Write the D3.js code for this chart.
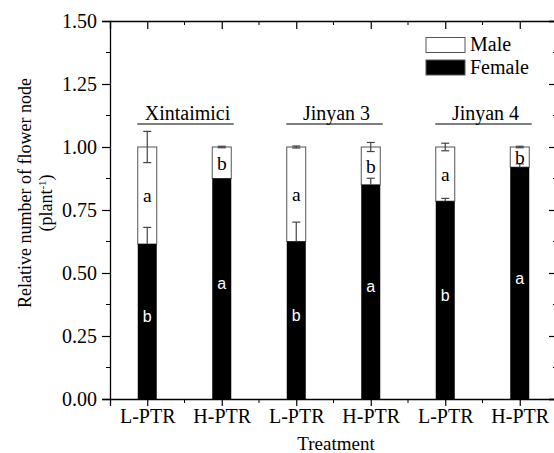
<!DOCTYPE html>
<html>
<head>
<meta charset="utf-8">
<script src="https://cdn.jsdelivr.net/npm/d3@7"></script>
<style>
  body { margin: 0; background: #fff; }
  text { font-family: "Liberation Serif", "Times New Roman", serif; fill: #000; }
</style>
</head>
<body>
<script>
var w = 554, h = 453;

// data
var categories = ["L-PTR", "H-PTR", "L-PTR", "H-PTR", "L-PTR", "H-PTR"];
var groups = ["Xintaimici", "Jinyan 3", "Jinyan 4"];
var female = [0.615, 0.875, 0.625, 0.85, 0.785, 0.92];
var male = [0.385, 0.125, 0.375, 0.15, 0.215, 0.08];
var femaleErr = [0.066, 0.0, 0.077, 0.026, 0.011, 0.013];
var maleErr = [0.062, 0.003, 0.004, 0.018, 0.015, 0.003];
var femaleLetters = ["b", "a", "b", "a", "b", "a"];
var maleLetters = ["a", "b", "a", "b", "a", "b"];
var yTicks = [0, 0.25, 0.5, 0.75, 1.0, 1.25, 1.5];

var pLeft = 110, pTop = 21, pRight = 557, pBottom = 399;

var svg = d3.select("body").append("svg")
            .attr("width", w)
            .attr("height", h);

var x = d3.scaleLinear().domain([0.5, 6.5]).range([pLeft, pRight]);
var y = d3.scaleLinear().domain([0, 1.5]).range([pBottom, pTop]);
var barW = 19;

// bars
var bars = svg.append("g");
categories.forEach(function(c, i) {
  var cx = x(i + 1);
  // male on top (white)
  bars.append("rect")
      .attr("x", cx - barW / 2)
      .attr("y", y(female[i] + male[i]))
      .attr("width", barW)
      .attr("height", y(female[i]) - y(female[i] + male[i]))
      .attr("fill", "#fff")
      .attr("stroke", "#555")
      .attr("stroke-width", 1);
  bars.append("rect")
      .attr("x", cx - barW / 2)
      .attr("y", y(female[i]))
      .attr("width", barW)
      .attr("height", y(0) - y(female[i]))
      .attr("fill", "#000");
});

// error bars
function errBar(cx, lo, hi) {
  var g = svg.append("g").attr("stroke", "#444").attr("stroke-width", 1.2);
  g.append("line").attr("x1", cx).attr("x2", cx).attr("y1", y(lo)).attr("y2", y(hi));
  g.append("line").attr("x1", cx - 4).attr("x2", cx + 4).attr("y1", y(hi)).attr("y2", y(hi));
  g.append("line").attr("x1", cx - 4).attr("x2", cx + 4).attr("y1", y(lo)).attr("y2", y(lo));
}
categories.forEach(function(c, i) {
  var cx = x(i + 1);
  var tot = female[i] + male[i];
  errBar(cx, tot - maleErr[i], tot + maleErr[i]);
  if (femaleErr[i] > 0) {
    var g = svg.append("g").attr("stroke", "#444").attr("stroke-width", 1.2);
    g.append("line").attr("x1", cx).attr("x2", cx).attr("y1", y(female[i])).attr("y2", y(female[i] + femaleErr[i]));
    g.append("line").attr("x1", cx - 4).attr("x2", cx + 4)
     .attr("y1", y(female[i] + femaleErr[i])).attr("y2", y(female[i] + femaleErr[i]));
  }
});

// letters
categories.forEach(function(c, i) {
  var cx = x(i + 1);
  svg.append("text")
     .attr("x", cx)
     .attr("y", y(female[i] + male[i] / 2))
     .attr("dy", "0.35em")
     .attr("text-anchor", "middle")
     .attr("font-size", 19.5)
     .text(maleLetters[i]);
  svg.append("text")
     .attr("x", cx)
     .attr("y", y(female[i] / 2 + 0.02))
     .attr("dy", "0.35em")
     .attr("text-anchor", "middle")
     .style("font-family", "'Liberation Sans', Arial, sans-serif")
     .style("fill", "#fff")
     .attr("font-size", 16)
     .text(femaleLetters[i]);
});

// frame axes
var tickMaj = d3.range(1, 7);
var tickMin = d3.range(1.5, 6.5, 1);
var bAxis = d3.axisBottom(x).tickValues(tickMaj).tickSize(7)
              .tickFormat(function(d) { return categories[d - 1]; });
var bg = svg.append("g").attr("transform", "translate(0," + pBottom + ")").call(bAxis);
bg.selectAll("text").attr("font-size", 20).attr("font-family", "Liberation Serif").attr("dy", "0.71em").attr("y", 10);
bg.append("g").selectAll("line").data(tickMin).enter().append("line")
  .attr("x1", x).attr("x2", x).attr("y1", 0).attr("y2", 4).attr("stroke", "#000");

var tAxis = d3.axisBottom(x).tickValues(tickMaj).tickSize(8).tickFormat("");
var tg = svg.append("g").attr("transform", "translate(0," + pTop + ")").call(tAxis);
tg.append("g").selectAll("line").data(tickMin).enter().append("line")
  .attr("x1", x).attr("x2", x).attr("y1", 0).attr("y2", 4).attr("stroke", "#000");

var yMin = d3.range(0.125, 1.5, 0.25);
var lAxis = d3.axisLeft(y).tickValues(yTicks).tickSize(8).tickFormat(d3.format(".2f"));
var lg = svg.append("g").attr("transform", "translate(" + pLeft + ",0)").call(lAxis);
lg.selectAll("text").attr("font-size", 20).attr("font-family", "Liberation Serif").attr("x", -13);
lg.append("g").selectAll("line").data(yMin).enter().append("line")
  .attr("y1", y).attr("y2", y).attr("x1", 0).attr("x2", -4).attr("stroke", "#000");

var rAxis = d3.axisRight(y).tickValues(yTicks).tickSize(-8).tickFormat("");
var rg = svg.append("g").attr("transform", "translate(" + pRight + ",0)").call(rAxis);
rg.append("g").selectAll("line").data(yMin).enter().append("line")
  .attr("y1", y).attr("y2", y).attr("x1", 0).attr("x2", -4).attr("stroke", "#000");

svg.selectAll(".domain").attr("stroke-width", 1.3);
svg.selectAll(".tick line").attr("stroke-width", 1.2);

// group labels
groups.forEach(function(g, k) {
  var x1 = x(2 * k + 1) - 10, x2 = x(2 * k + 2) + 12;
  svg.append("line").attr("x1", x1).attr("x2", x2).attr("y1", 124).attr("y2", 124)
     .attr("stroke", "#000").attr("stroke-width", 1.2);
  svg.append("text").attr("x", (x1 + x2) / 2 + 2).attr("y", 120)
     .attr("text-anchor", "middle").attr("font-size", 20).text(g);
});

// legend
var legend = [["Male", "#fff"], ["Female", "#000"]];
legend.forEach(function(d, i) {
  svg.append("rect").attr("x", 426).attr("y", 37.5 + i * 22.5).attr("width", 39).attr("height", 15)
     .attr("fill", d[1]).attr("stroke", "#555").attr("stroke-width", 1);
  svg.append("text").attr("x", 470).attr("y", 51 + i * 22.5).attr("font-size", 20).text(d[0]);
});

// axis titles
svg.append("text").attr("x", 336).attr("y", 450).attr("text-anchor", "middle")
   .attr("font-size", 19).text("Treatment");
svg.append("text").attr("transform", "translate(31,193) rotate(-90)")
   .attr("text-anchor", "middle").attr("font-size", 18).text("Relative number of flower node");
var t2 = svg.append("text").attr("transform", "translate(52,203) rotate(-90)")
   .attr("text-anchor", "middle").attr("font-size", 18);
t2.append("tspan").text("(plant");
t2.append("tspan").attr("dy", -6).attr("font-size", 11).text("-1");
t2.append("tspan").attr("dy", 6).text(")");
</script>
</body>
</html>
